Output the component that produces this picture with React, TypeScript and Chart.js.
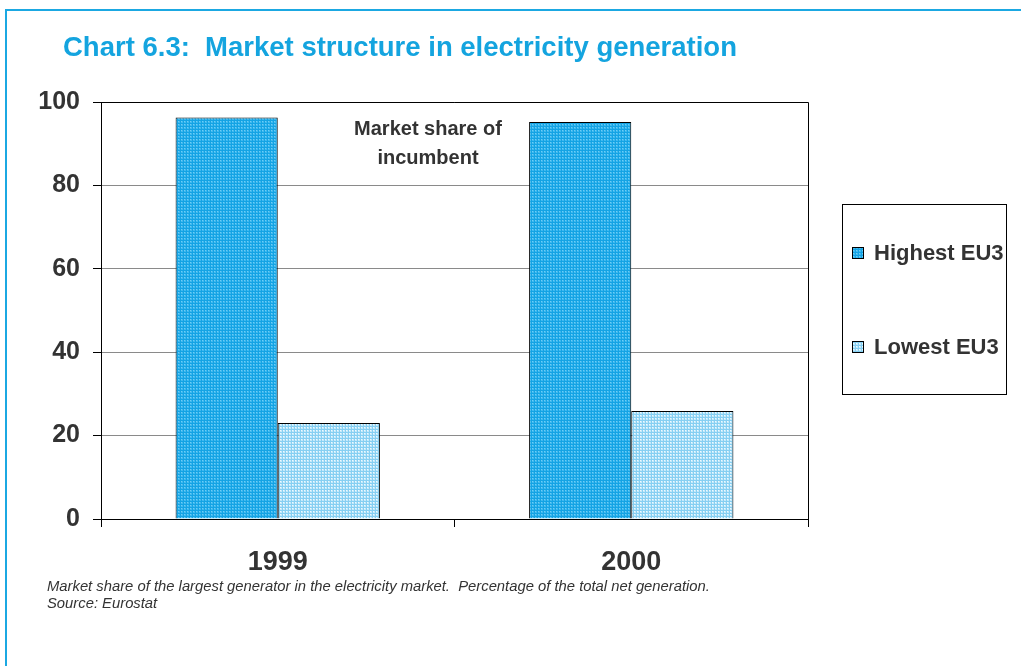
import React, { useEffect, useRef } from "react";
import { Chart, registerables } from "chart.js";

Chart.register(...registerables);

const categories = ["1999", "2000"];
const seriesNames = ["Highest EU3", "Lowest EU3"];
const highestValues = [96.3, 95.2];
const lowestValues = [23.0, 25.9];
const yTicks = [0, 20, 40, 60, 80, 100];
const titleText = "Chart 6.3:  Market structure in electricity generation";
const annotationLines = ["Market share of", "incumbent"];
const captionLines = [
  "Market share of the largest generator in the electricity market.  Percentage of the total net generation.",
  "Source: Eurostat",
];

const W = 1021;
const H = 666;

function makePattern(line: string, cell: string, center: string): CanvasPattern | string {
  const c = document.createElement("canvas");
  c.width = 3;
  c.height = 3;
  const x = c.getContext("2d");
  if (!x) return line;
  x.fillStyle = cell;
  x.fillRect(0, 0, 3, 3);
  x.fillStyle = line;
  x.fillRect(0, 0, 3, 1);
  x.fillRect(0, 0, 1, 3);
  x.fillStyle = center;
  x.fillRect(1, 1, 1, 1);
  const p = x.createPattern(c, "repeat");
  return p || line;
}

export default function App() {
  const ref = useRef<HTMLCanvasElement | null>(null);

  useEffect(() => {
    const canvas = ref.current;
    if (!canvas) return;
    const hiFill = makePattern("#14a3e4", "#3fb9ef", "#6fcdf5");
    const loFill = makePattern("#86cff2", "#c4e9fa", "#eefaff");
    const fills = [hiFill, loFill];

    const overlay = {
      id: "overlay",
      afterDraw(chart: any) {
        const ctx = chart.ctx as CanvasRenderingContext2D;
        const a = chart.chartArea;
        ctx.save();
        // blue frame
        ctx.strokeStyle = "#1ba8e2";
        ctx.lineWidth = 2;
        ctx.beginPath();
        ctx.moveTo(6, H);
        ctx.lineTo(6, 10);
        ctx.lineTo(W, 10);
        ctx.stroke();
        // plot frame
        ctx.strokeStyle = "#000";
        ctx.lineWidth = 1;
        ctx.beginPath();
        ctx.moveTo(a.left, a.top + 0.5);
        ctx.lineTo(a.right + 0.5, a.top + 0.5);
        ctx.lineTo(a.right + 0.5, a.bottom);
        ctx.stroke();
        // title
        ctx.fillStyle = "#14a4df";
        ctx.font = "bold 27.5px 'Liberation Sans Narrow', 'Liberation Sans', sans-serif";
        ctx.textBaseline = "middle";
        ctx.textAlign = "left";
        ctx.fillText(titleText, 63, 48);
        // annotation
        ctx.fillStyle = "#333";
        ctx.font = "bold 20px 'Liberation Sans', sans-serif";
        ctx.textAlign = "center";
        ctx.fillText(annotationLines[0], 428, 129);
        ctx.fillText(annotationLines[1], 428, 158);
        // caption
        ctx.font = "italic 14.8px 'Liberation Sans Narrow', 'Liberation Sans', sans-serif";
        ctx.textAlign = "left";
        ctx.fillText(captionLines[0], 47, 587);
        ctx.fillText(captionLines[1], 47, 604);
        // legend box
        ctx.strokeStyle = "#000";
        ctx.lineWidth = 1;
        ctx.strokeRect(842.5, 204.5, 164, 190);
        const ys = [253, 347];
        chart.data.datasets.forEach((ds: any, i: number) => {
          const y = ys[i];
          ctx.fillStyle = fills[i] as any;
          ctx.fillRect(852, y - 6, 12, 12);
          ctx.strokeStyle = "#000";
          ctx.strokeRect(852.5, y - 5.5, 11, 11);
          ctx.fillStyle = "#333";
          ctx.font = "bold 22px 'Liberation Sans', sans-serif";
          ctx.textAlign = "left";
          ctx.fillText(ds.label, 874, y + 1);
        });
        ctx.restore();
      },
    };

    const chart = new Chart(canvas, {
      type: "bar",
      data: {
        labels: categories,
        datasets: [
          {
            label: seriesNames[0],
            data: highestValues,
            backgroundColor: hiFill as any,
            borderColor: "#000",
            borderWidth: 1,
            borderSkipped: "bottom",
            categoryPercentage: 0.578,
            barPercentage: 1,
          },
          {
            label: seriesNames[1],
            data: lowestValues,
            backgroundColor: loFill as any,
            borderColor: "#000",
            borderWidth: 1,
            borderSkipped: "bottom",
            categoryPercentage: 0.578,
            barPercentage: 1,
          },
        ],
      },
      options: {
        responsive: false,
        animation: false,
        devicePixelRatio: 1,
        layout: { padding: { left: 0, top: 102, right: 213, bottom: 0 } },
        plugins: {
          legend: { display: false },
          tooltip: { enabled: false },
          title: { display: false },
        },
        scales: {
          x: {
            afterFit: (s: any) => {
              s.height = H - 519;
            },
            grid: {
              offset: true,
              drawOnChartArea: false,
              tickLength: 8,
              color: "#000",
            },
            border: { color: "#000", width: 1 },
            ticks: {
              padding: 19,
              color: "#333",
              font: { family: "'Liberation Sans', sans-serif", size: 27, weight: "bold" },
            },
          },
          y: {
            min: 0,
            max: 100,
            afterFit: (s: any) => {
              s.width = 101;
            },
            afterBuildTicks: (s: any) => {
              s.ticks = yTicks.map((v) => ({ value: v }));
            },
            grid: {
              color: "#8a8a8a",
              tickColor: "#000",
              tickLength: 8,
            },
            border: { color: "#000", width: 1 },
            ticks: {
              padding: 13,
              color: "#333",
              font: { family: "'Liberation Sans', sans-serif", size: 25, weight: "bold" },
            },
          },
        },
      },
      plugins: [overlay],
    });
    return () => chart.destroy();
  }, []);

  return (
    <div style={{ position: "absolute", left: 0, top: 0, width: W, height: H, background: "#fff" }}>
      <canvas ref={ref} width={W} height={H} style={{ width: W, height: H, display: "block" }} />
    </div>
  );
}
